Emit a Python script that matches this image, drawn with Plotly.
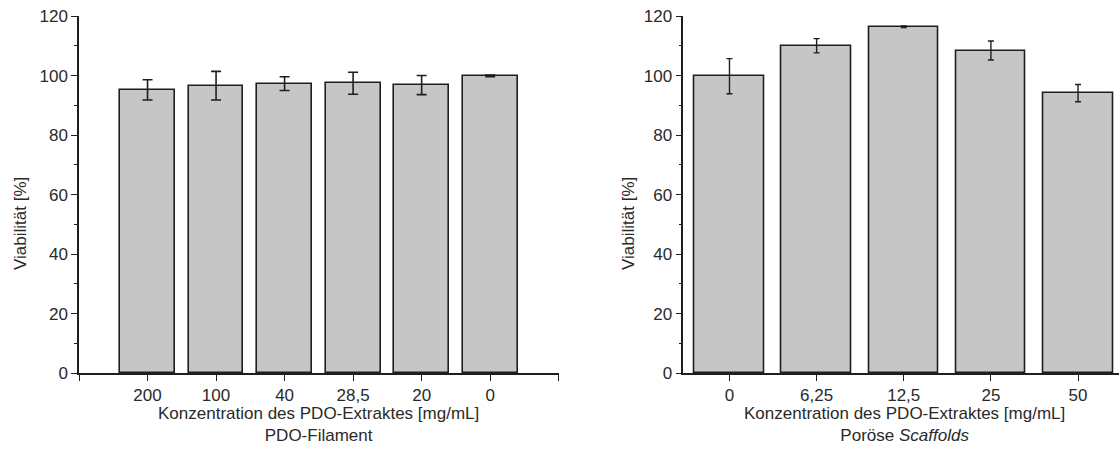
import plotly.graph_objects as go

W, H = 1119, 454

# ---- data ----
left_labels = ["200", "100", "40", "28,5", "20", "0"]
left_values = [95.2, 96.6, 97.3, 97.4, 96.8, 99.9]
left_errors = [3.4, 4.8, 2.3, 3.7, 3.2, 0.3]

right_labels = ["0", "6,25", "12,5", "25", "50"]
right_values = [99.8, 110.0, 116.4, 108.4, 94.1]
right_errors = [5.9, 2.4, 0.3, 3.2, 2.9]

y_title = "Viabilität [%]"
x_title = "Konzentration des PDO-Extraktes [mg/mL]"
left_sub = "PDO-Filament"
right_sub = "Poröse <i>Scaffolds</i>"

FONT = "Liberation Sans, Arial, sans-serif"
TXT = "#2a2a2a"
LINE = "#1e1e1e"
FILL = "#c6c6c6"
FS = 17

# pixel geometry
top_px, bot_px = 16, 373.3
lx0, lx1 = 79, 558.7
rx0, rx1 = 683.3, 1119

fig = go.Figure()

lx = list(range(len(left_labels)))
rx = list(range(len(right_labels)))

fig.add_trace(go.Bar(
    x=lx, y=left_values, width=0.8, xaxis="x", yaxis="y",
    marker=dict(color=FILL, line=dict(color=LINE, width=1.6)),
    error_y=dict(type="data", array=left_errors, visible=True,
                 color=LINE, thickness=1.6, width=5),
    showlegend=False, hoverinfo="skip"))

fig.add_trace(go.Bar(
    x=rx, y=right_values, width=0.8, xaxis="x2", yaxis="y2",
    marker=dict(color=FILL, line=dict(color=LINE, width=1.6)),
    error_y=dict(type="data", array=right_errors, visible=True,
                 color=LINE, thickness=1.4, width=3),
    showlegend=False, hoverinfo="skip"))

ydom = [1 - bot_px / H, 1 - top_px / H]

yaxis_common = dict(
    range=[0, 120], tickvals=[0, 20, 40, 60, 80, 100, 120],
    ticks="outside", ticklen=6, tickwidth=1.3, tickcolor=LINE,
    showline=True, linecolor=LINE, linewidth=1.5,
    showgrid=False, zeroline=False, automargin=False,
    tickfont=dict(family=FONT, size=FS, color=TXT),
    minor=dict(ticks="outside", ticklen=3, tickwidth=1.3,
               tickcolor=LINE, dtick=10, showgrid=False),
    domain=ydom,
)

left_tickvals = list(range(-1, len(left_labels) + 1))
left_ticktext = [""] + left_labels + [""]

xaxis_common = dict(
    ticks="outside", ticklen=6, tickwidth=1.3, tickcolor=LINE,
    showline=True, linecolor=LINE, linewidth=1.5,
    showgrid=False, zeroline=False, automargin=False,
    tickfont=dict(family=FONT, size=FS, color=TXT),
)

fig.update_layout(
    width=W, height=H,
    margin=dict(l=0, r=0, t=0, b=0, autoexpand=False),
    paper_bgcolor="white", plot_bgcolor="white",
    bargap=0,
    xaxis=dict(domain=[lx0 / W, lx1 / W], range=[-1, 6],
               tickvals=left_tickvals, ticktext=left_ticktext,
               anchor="y", **xaxis_common),
    yaxis=dict(anchor="x", **yaxis_common),
    xaxis2=dict(domain=[rx0 / W, rx1 / W], range=[-0.53, 4.47],
                tickvals=rx, ticktext=right_labels,
                anchor="y2", **xaxis_common),
    yaxis2=dict(anchor="x2", **yaxis_common),
)

ann_font = dict(family=FONT, size=FS, color=TXT)
annotations = [
    dict(text=x_title + "<br>" + left_sub, x=(lx0 + lx1) / 2 / W, y=1 - 424 / H,
         xref="paper", yref="paper", showarrow=False, font=ann_font,
         xanchor="center", yanchor="middle", align="center"),
    dict(text=x_title + "<br>" + right_sub, x=905 / W, y=1 - 424 / H,
         xref="paper", yref="paper", showarrow=False, font=ann_font,
         xanchor="center", yanchor="middle", align="center"),
    dict(text=y_title, x=20 / W, y=1 - 224 / H, textangle=-90,
         xref="paper", yref="paper", showarrow=False, font=ann_font,
         xanchor="center", yanchor="middle"),
    dict(text=y_title, x=628 / W, y=1 - 224 / H, textangle=-90,
         xref="paper", yref="paper", showarrow=False, font=ann_font,
         xanchor="center", yanchor="middle"),
]
fig.update_layout(annotations=annotations)

fig.write_html("out.html")
